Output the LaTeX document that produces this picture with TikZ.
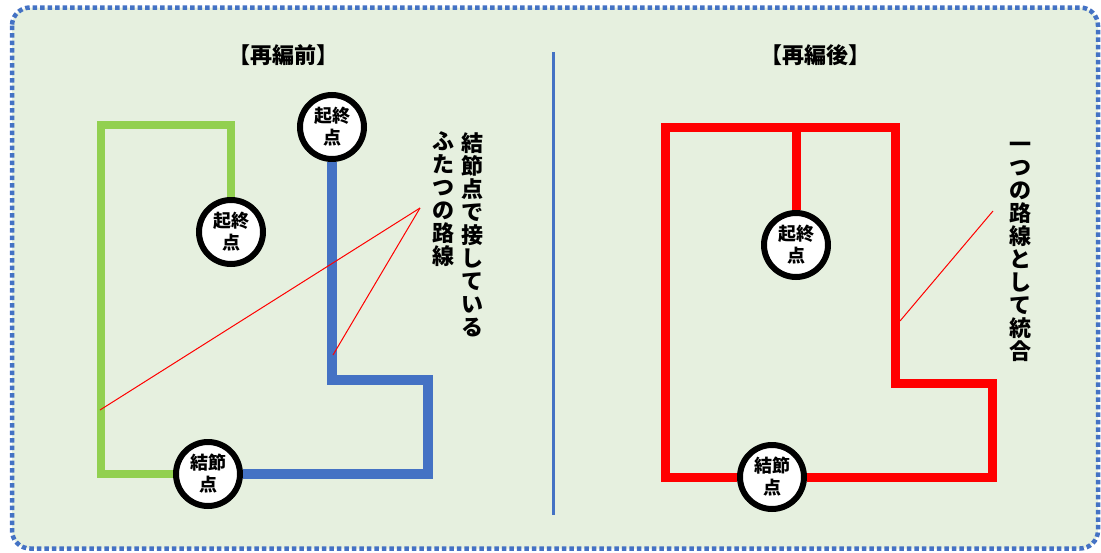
\documentclass[tikz,border=0pt]{standalone}
\usepackage{fontspec}
\setmainfont{Noto Sans CJK JP}
\definecolor{bgfill}{HTML}{E6F0DF}
\definecolor{frameblue}{HTML}{4472C4}
\definecolor{routegreen}{HTML}{92D050}
\definecolor{routeblue}{HTML}{4472C4}
\definecolor{routered}{HTML}{FF0000}
\begin{document}
\begin{tikzpicture}[x=1pt,y=-1pt,
  stop/.style={circle,draw=black,line width=6pt,fill=white,minimum size=64pt,inner sep=0pt,align=center,font=\fontsize{18}{22}\selectfont\bfseries},
  greenroute/.style={draw=routegreen,line width=8pt,line join=miter},
  blueroute/.style={draw=routeblue,line width=10pt,line join=miter},
  redroute/.style={draw=routered,line width=9pt,line join=miter},
  callout/.style={draw=routered,line width=1pt},
  vtext/.style={align=center,inner sep=0pt,font=\fontsize{22}{23}\selectfont\bfseries},
  title/.style={inner sep=0pt,font=\fontsize{22}{26}\selectfont\bfseries}
]
\useasboundingbox (0,0) rectangle (1101,552);
% background frame
\draw[fill=bgfill,draw=frameblue,line width=4.5pt,dash pattern=on 4.5pt off 3pt,rounded corners=18pt] (12,7.5) rectangle (1098,548.5);
% divider
\draw[draw=frameblue,line width=3pt] (553,52) -- (553,515);
% titles
\node[title] (t1) at (283,55) {【再編前】};
\node[title] (t2) at (815,55) {【再編後】};

% ---- left diagram ----
\node[stop] (s1) at (231,232) {起終\\点};
\node[stop] (s2) at (332,127) {起終\\点};
\node[stop] (n1) at (208,474) {結節\\点};
\coordinate (g1) at (231,124.5);
\coordinate (g2) at (101,124.5);
\coordinate (g3) at (101,474);
\coordinate (b1) at (332,380);
\coordinate (b2) at (427.5,380);
\coordinate (b3) at (427.5,474);
\draw[greenroute] (s1.north) -- (g1) -- (g2) -- (g3) -- (n1.west);
\draw[blueroute] (s2.south) -- (b1) -- (b2) -- (b3) -- (n1.east);
% callouts
\coordinate (ca) at (420,208);
\coordinate (cl) at (100,410);
\coordinate (cb) at (333,355);
\draw[callout] (ca) -- (cl);
\draw[callout] (ca) -- (cb);
\node[vtext] (v1) at (472,234.5) {結\\節\\点\\で\\接\\し\\て\\い\\る};
\node[vtext] (v2) at (443,199.5) {ふ\\た\\つ\\の\\路\\線};

% ---- right diagram ----
\node[stop] (r1) at (796,245) {起終\\点};
\node[stop] (n2) at (772,477) {結節\\点};
\coordinate (rt) at (796,127.5);
\coordinate (r2) at (665.5,477);
\coordinate (r3) at (665.5,127.5);
\coordinate (r4) at (895.5,127.5);
\coordinate (r5) at (895.5,383);
\coordinate (r6) at (992,383);
\coordinate (r7) at (992,477);
\draw[redroute] (n2.west) -- (r2) -- (r3) -- (r4) -- (r5) -- (r6) -- (r7) -- (n2.east);
\draw[redroute] (r1.north) -- (rt);
\coordinate (cc) at (993,211);
\coordinate (cd) at (900,321);
\draw[callout] (cc) -- (cd);
\node[vtext] (v3) at (1020,248) {\vphantom{合}一\\つ\\の\\路\\線\\と\\し\\て\\統\\合};
\end{tikzpicture}
\end{document}
